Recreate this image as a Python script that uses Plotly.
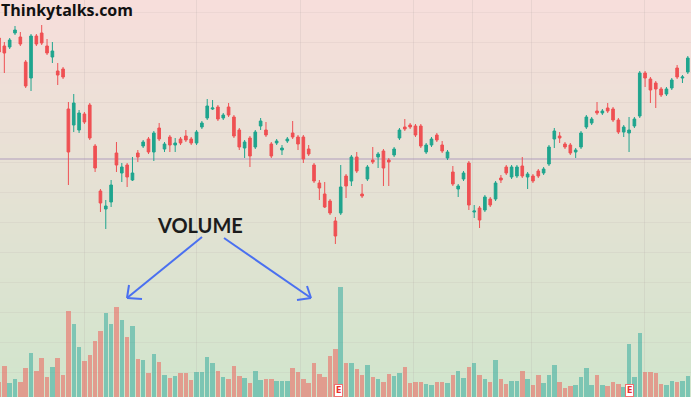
import plotly.graph_objects as go

# ---------------- data (price units, volume units) ----------------
opens = [362,354,353,367,363,338,322,364,367,354,343,329,331,291,275,270,286,295,254,209,
         191,198,247,227,235,220,247,254,261,248,272,251,263,255,261,264,261,257,273,282,
         291,293,282,293,283,270,252,262,253,274,270,256,257,250,259,267,263,263,251,235,
         217,206,199,179,187,224,219,243,206,221,240,243,249,240,245,262,273,275,274,274,
         248,255,265,255,242,228,211,221,237,188,192,190,201,201,222,233,223,224,234,223,
         224,229,227,236,261,264,256,255,248,253,273,277,289,287,292,291,280,268,267,274,
         284,327,321,317,311,306,312,332,322,328]
highs = [364,358,362,374,368,340,366,366,375,361,358,337,333,298,306,290,288,297,256,211,
         200,220,258,237,237,243,250,260,263,269,277,258,265,262,263,270,263,270,279,301,
         300,295,287,297,285,272,260,264,270,282,278,258,261,255,263,279,265,265,255,237,
         220,218,201,183,235,226,245,248,216,235,253,248,251,242,253,272,281,277,276,276,
         257,263,267,259,250,234,216,229,239,195,194,205,203,219,225,235,235,235,243,228,
         226,231,233,255,272,268,258,257,252,269,285,283,298,291,297,293,282,275,283,283,
         329,329,323,319,313,313,322,335,325,344]
lows  = [345,327,351,365,354,312,309,354,355,345,337,315,321,215,268,267,276,260,228,188,
         171,193,228,218,213,219,238,252,246,239,259,248,248,248,255,258,255,255,271,280,
         290,279,280,283,262,250,242,233,251,270,263,242,255,245,257,261,250,237,244,217,
         200,192,185,156,185,202,214,227,202,219,236,232,214,214,243,260,269,271,263,252,
         246,253,258,247,240,214,203,219,190,182,172,188,193,199,217,225,221,222,222,211,
         217,222,225,234,252,257,251,245,242,251,271,275,285,285,287,278,266,263,248,272,
         282,313,297,292,303,304,310,321,317,326]
closes = [348,347,360,370,356,314,364,356,357,347,349,325,323,248,297,287,278,262,232,197,
          194,215,235,233,223,227,243,258,248,267,261,256,255,257,257,260,257,268,277,294,
          292,281,285,285,264,253,258,244,268,279,265,244,259,252,261,263,256,241,246,219,
          212,193,187,164,213,214,243,229,204,233,238,246,232,238,251,270,271,273,265,254,
          255,261,260,249,248,216,214,227,195,189,180,203,195,217,220,227,233,233,224,226,
          219,224,231,253,269,262,253,247,250,267,283,281,287,289,289,280,268,273,270,281,
          327,322,310,311,305,311,320,323,323,342]
volumes = [15,31,14,18,15,29,44,26,39,20,30,39,22,86,73,50,36,42,56,66,
           84,73,90,77,60,71,38,37,24,43,35,22,19,21,24,24,17,25,25,40,
           34,26,20,18,31,21,19,14,26,17,18,18,16,16,16,29,25,18,14,34,
           23,20,41,48,110,34,34,28,22,32,20,18,15,23,21,24,30,14,15,15,
           13,12,15,15,14,22,26,19,30,34,22,18,15,37,18,13,16,16,26,18,
           12,22,14,22,32,15,9,11,12,20,29,12,22,12,11,15,13,10,53,20,
           64,25,25,24,13,12,16,15,16,21]
days = list(range(len(opens)))
ref_price = 241          # horizontal price line
earnings_days = [63.5, 118]
grid_days = [16, 37, 56.5, 77.7, 88.7, 99.8, 120.8]

W, H = 691, 397
GREEN = "#1fa58e"
RED = "#ef5053"
VOL_G = "rgba(38,166,154,0.5)"
VOL_R = "rgba(239,83,80,0.5)"

vol_colors = [VOL_G if c >= o else VOL_R for o, c in zip(opens, closes)]

fig = go.Figure()
fig.add_trace(go.Bar(x=days, y=volumes, marker=dict(color=vol_colors, line=dict(width=0)),
                     width=0.84, yaxis="y2", hoverinfo="skip"))
fig.add_trace(go.Candlestick(x=days, open=opens, high=highs, low=lows, close=closes,
                             increasing=dict(line=dict(color=GREEN, width=1), fillcolor=GREEN),
                             decreasing=dict(line=dict(color=RED, width=1), fillcolor=RED),
                             whiskerwidth=0))

def P(x, y):
    return x / W, 1 - y / H

shapes = []
# background gradient
top = (247, 222, 219)
bot = (209, 229, 204)
n = 80
for i in range(n):
    t = i / (n - 1)
    c = tuple(round(top[j] + (bot[j] - top[j]) * t) for j in range(3))
    shapes.append(dict(type="rect", xref="paper", yref="paper", x0=0, x1=1,
                       y0=max(0, 1 - (i + 1) / n - 0.002), y1=1 - i / n,
                       fillcolor="rgb(%d,%d,%d)" % c, line=dict(width=0), layer="below"))
# price line
shapes.append(dict(type="line", xref="paper", yref="y", x0=0, x1=1, y0=ref_price, y1=ref_price,
                   line=dict(color="rgba(190,175,195,0.9)", width=1.5), layer="below"))
# arrows
ARROW = "#4a70f0"
def seg(a, b):
    (x0, y0), (x1, y1) = P(*a), P(*b)
    shapes.append(dict(type="line", xref="paper", yref="paper", x0=x0, y0=y0, x1=x1, y1=y1,
                       line=dict(color=ARROW, width=2)))
seg((202, 237), (127, 298)); seg((129, 285), (127, 298)); seg((127, 298), (142, 299))
seg((224, 238), (311, 298)); seg((307, 286), (311, 298)); seg((311, 298), (297, 300))

annotations = [
    dict(text="<b>Thinkytalks.com</b>", xref="paper", yref="paper", x=0, y=1, xanchor="left",
         yanchor="top", showarrow=False, yshift=3, xshift=-1,
         font=dict(family="Open Sans", size=16, color="#111111")),
    dict(text="<b>VOLUME</b>", xref="paper", yref="paper", x=200 / W, y=1 - 225 / H, xanchor="center",
         yanchor="middle", showarrow=False,
         font=dict(family="Lato", size=20, color="#1c1c1c")),
]
for d in earnings_days:
    annotations.append(dict(text="<b>E</b>", xref="x", yref="paper", x=d, y=0, xanchor="center",
                            yanchor="bottom", showarrow=False, yshift=0,
                            font=dict(family="DejaVu Sans", size=8, color="#e83030"),
                            bgcolor="white", bordercolor="#f07070", borderwidth=1, borderpad=1))

fig.update_layout(
    width=W, height=H, margin=dict(l=0, r=0, t=0, b=0),
    paper_bgcolor="rgb(209,229,204)", plot_bgcolor="rgba(0,0,0,0)",
    showlegend=False, shapes=shapes, annotations=annotations, bargap=0,
    xaxis=dict(range=[0.19, 129.6], rangeslider=dict(visible=False), tickvals=grid_days,
               showticklabels=False, showgrid=True, gridcolor="rgba(170,160,160,0.18)",
               zeroline=False, ticks="", showline=False),
    yaxis=dict(range=[3, 400], showticklabels=False, showgrid=True, tick0=28, dtick=30,
               gridcolor="rgba(170,160,160,0.12)", zeroline=False, ticks="", showline=False),
    yaxis2=dict(range=[0, 397], overlaying="y", showticklabels=False, showgrid=False,
                zeroline=False, ticks=""),
)
fig.write_html("out.html", config={"displayModeBar": False},
               post_script="document.body.style.margin='0';document.body.style.overflow='hidden';")
